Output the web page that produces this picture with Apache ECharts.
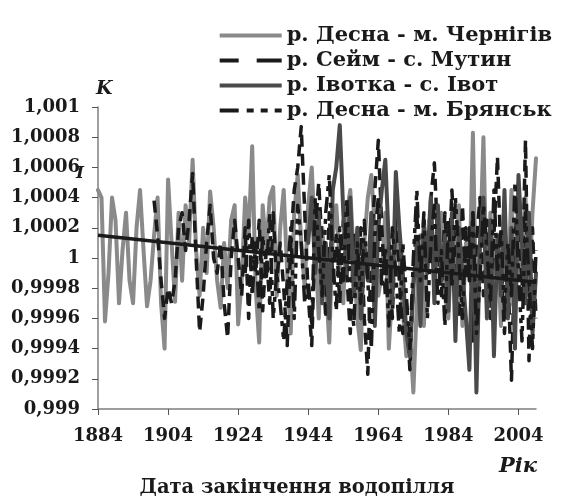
<!DOCTYPE html>
<html>
<head>
<meta charset="utf-8">
<script src="https://cdn.jsdelivr.net/npm/echarts@6/dist/echarts.min.js"></script>
<style>
html,body{margin:0;padding:0;background:#fff;}
#chart{width:563px;height:500px;}
</style>
</head>
<body>
<div id="chart"></div>
<script>
// ---------- DATA ----------
const firstYear = 1884;
const lastYear = 2009;
const years = [];
for (let y = firstYear; y <= lastYear; y++) years.push(String(y));

const seriesNames = [
  'р. Десна - м. Чернігів',
  'р. Сейм - с. Мутин',
  'р. Івотка - с. Івот',
  'р. Десна - м. Брянськ'
];

// р. Десна - м. Чернігів, 1884-2009
const chernihiv = [
  1.00045,1.00040,0.99958,0.99990,1.00040,1.00025,0.99970,1.00005,1.00030,0.99985,
  0.99970,1.00020,1.00045,1.00005,0.99968,0.99985,1.00015,1.00040,0.99970,0.99940,
  1.00052,1.00010,0.99971,1.00030,0.99985,1.00035,1.00010,1.00065,1.00005,0.99975,
  1.00020,0.99990,1.00044,1.00020,0.99985,0.99967,1.00010,0.99980,1.00025,1.00035,
  0.99956,0.99985,1.00040,1.00015,1.00074,0.99980,0.99944,1.00035,1.00005,1.00040,
  1.00047,0.99975,1.00020,1.00045,0.99990,0.99950,1.00030,1.00055,1.00010,0.99980,
  1.00035,1.00060,1.00010,0.99960,1.00020,0.99985,0.99944,1.00015,1.00035,0.99995,
  0.99970,1.00030,1.00045,1.00000,0.99960,0.99939,1.00010,1.00040,1.00055,1.00020,
  0.99975,0.99990,1.00030,0.99940,0.99980,1.00025,1.00000,0.99965,0.99935,0.99950,
  0.99911,0.99970,1.00015,0.99955,1.00005,1.00040,0.99985,1.00020,1.00030,0.99975,
  0.99960,1.00015,0.99990,1.00035,0.99955,1.00010,0.99985,1.00083,0.99960,1.00005,
  1.00080,0.99970,1.00030,0.99990,1.00010,0.99955,1.00025,0.99980,1.00045,0.99965,
  1.00015,0.99985,1.00040,0.99975,1.00030,1.00066
];

// р. Сейм - с. Мутин, 1900-2009
const mutynStart = 1900;
const mutyn = [
  1.00038,1.00015,0.99985,0.99960,0.99980,0.99970,0.99985,1.00020,1.00030,1.00005,
  1.00025,1.00056,1.00000,0.99951,0.99975,1.00010,1.00035,1.00000,0.99990,1.00010,
  0.99970,0.99947,1.00000,1.00025,1.00000,0.99975,1.00020,0.99960,1.00015,0.99990,
  1.00025,0.99965,1.00005,0.99970,1.00030,0.99985,1.00010,0.99980,0.99942,1.00010,
  1.00045,1.00060,1.00087,1.00030,0.99975,0.99942,1.00020,1.00050,1.00005,0.99960,
  1.00030,0.99985,1.00015,0.99970,1.00025,0.99990,0.99950,1.00015,0.99980,1.00020,
  0.99960,0.99923,1.00010,1.00045,1.00078,1.00020,0.99975,1.00010,0.99960,1.00030,
  0.99985,0.99950,0.99970,0.99926,0.99985,1.00030,0.99970,1.00020,1.00000,1.00040,
  1.00063,1.00010,0.99975,1.00030,0.99990,1.00045,1.00000,0.99960,1.00035,0.99985,
  1.00020,0.99945,1.00010,1.00040,0.99975,1.00025,0.99960,1.00015,1.00067,1.00000,
  0.99950,0.99990,0.99919,1.00010,1.00050,0.99975,1.00078,0.99932,1.00020,0.99960
];

// р. Івотка - с. Івот, 1944-2009
const ivotStart = 1944;
const ivot = [
  1.00010,1.00040,0.99990,1.00030,0.99970,1.00010,0.99960,1.00045,1.00060,1.00088,
  1.00030,0.99990,1.00040,0.99975,1.00020,0.99960,1.00010,0.99985,1.00030,0.99955,
  1.00020,1.00045,1.00065,1.00010,0.99970,1.00057,1.00020,0.99990,0.99950,0.99935,
  0.99980,1.00010,0.99955,1.00025,0.99990,1.00040,0.99970,1.00035,0.99985,1.00015,
  0.99965,1.00030,0.99945,1.00020,0.99990,0.99960,0.99926,1.00030,0.99911,1.00010,
  1.00040,0.99960,1.00025,0.99935,1.00015,0.99975,1.00045,0.99960,1.00020,0.99940,
  1.00055,1.00010,0.99970,1.00030,0.99950,0.99990
];

// р. Десна - м. Брянськ, 1926-2009
const bryanskStart = 1926;
const bryansk = [
  0.99990,1.00025,0.99975,1.00010,0.99965,1.00015,0.99985,1.00030,0.99960,0.99990,
  0.99970,0.99945,0.99985,1.00020,0.99960,1.00035,1.00010,0.99970,0.99985,0.99955,
  1.00040,1.00005,0.99975,1.00030,1.00055,1.00000,0.99965,1.00020,0.99985,1.00040,
  0.99975,0.99955,1.00010,0.99970,1.00025,0.99985,0.99940,1.00015,1.00040,0.99980,
  1.00005,0.99955,1.00020,0.99990,0.99950,1.00010,0.99975,0.99940,1.00000,1.00045,
  0.99985,1.00030,0.99960,1.00010,1.00035,0.99970,1.00005,0.99955,1.00025,0.99980,
  1.00040,1.00000,0.99960,1.00020,0.99985,1.00030,0.99950,0.99985,1.00035,1.00005,
  0.99970,1.00045,0.99990,1.00020,0.99965,1.00010,0.99975,1.00050,0.99990,0.99945,
  1.00030,0.99985,0.99940,1.00005
];

// linear trend end points (years, values)
const trendYears = [1884, 2009];
const trendValues = [1.00015, 0.99984];

// y-axis tick labels
const yTickValues = [0.999,0.9992,0.9994,0.9996,0.9998,1,1.0002,1.0004,1.0006,1.0008,1.001];
const yTickLabels = ['0,999','0,9992','0,9994','0,9996','0,9998','1','1,0002','1,0004','1,0006','1,0008','1,001'];

// ---------- BUILD ----------
function padSeries(startYear, values) {
  return years.map((ys) => {
    const i = Number(ys) - startYear;
    return (i >= 0 && i < values.length) ? values[i] : null;
  });
}
const trendData = years.map((ys) => {
  const k = trendYears.indexOf(Number(ys));
  return k >= 0 ? trendValues[k] : null;
});

const FONT = "'DejaVu Serif','Liberation Serif',serif";
const TXT = '#1a1a1a';
const FS = 18;

// legend sample icons (solid / dashed / dash-dot), 62 x 4
const ICON_SOLID = 'path://M0,0h62v4h-62z';
const ICON_DASH = 'path://M0,0h19v4h-19z M37,0h25v4h-25z';
const ICON_DASHDOT = 'path://M0,0h19v4h-19z M27,0h7v4h-7z M41,0h7v4h-7z M55,0h7v4h-7z';
const legendIcons = [ICON_SOLID, ICON_DASH, ICON_SOLID, ICON_DASHDOT];

const lineBase = {cap: 'round', join: 'round'};

const chart = echarts.init(document.getElementById('chart'), null, {renderer: 'canvas'});
chart.setOption({
  animation: false,
  backgroundColor: '#ffffff',
  grid: {left: 98, right: 27, top: 107, bottom: 91, containLabel: false},
  legend: {
    data: seriesNames.map((n, i) => ({name: n, icon: legendIcons[i]})),
    orient: 'vertical',
    right: 6,
    top: 20,
    itemWidth: 62,
    itemHeight: 4,
    itemGap: 4,
    align: 'left',
    textStyle: {fontFamily: FONT, fontWeight: 'bold', fontSize: 21, color: TXT, lineHeight: 20},
    selectedMode: false
  },
  xAxis: {
    type: 'category',
    data: years,
    boundaryGap: false,
    axisLine: {show: true, lineStyle: {color: '#7f7f7f', width: 1.5}},
    axisTick: {show: true, interval: 19, length: 6, lineStyle: {color: '#555', width: 1}},
    axisLabel: {interval: 19, margin: 18, fontFamily: FONT, fontWeight: 'bold', fontSize: FS, color: TXT},
    splitLine: {show: false}
  },
  yAxis: {
    type: 'value',
    min: 0.999,
    max: 1.001,
    interval: 0.0002,
    axisLine: {show: true, lineStyle: {color: '#7f7f7f', width: 1.5}},
    axisTick: {show: true, length: 6, lineStyle: {color: '#555', width: 1}},
    axisLabel: {
      margin: 18, fontFamily: FONT, fontWeight: 'bold', fontSize: FS, color: TXT,
      formatter: function (v) {
        let best = 0, bd = Infinity;
        yTickValues.forEach((t, i) => { const d = Math.abs(t - v); if (d < bd) { bd = d; best = i; } });
        return yTickLabels[best];
      }
    },
    splitLine: {show: false}
  },
  graphic: [
    {type: 'text', left: 96, top: 80, style: {text: 'K', font: "italic bold 19px 'DejaVu Serif', serif", fill: TXT}},
    {type: 'text', left: 76, top: 165, style: {text: 'I', font: "italic bold 17px 'DejaVu Serif', serif", fill: TXT}},
    {type: 'text', left: 499, top: 456, style: {text: 'Рік', font: "italic bold 21px 'DejaVu Serif', serif", fill: TXT}},
    {type: 'text', x: 297, y: 488, style: {text: 'Дата закінчення водопілля', font: "bold 19.5px 'DejaVu Serif', serif", fill: TXT, align: 'center', verticalAlign: 'middle'}}
  ],
  series: [
    {
      name: seriesNames[0], type: 'line', data: chernihiv, symbol: 'none', z: 2,
      lineStyle: Object.assign({color: '#8a8a8a', width: 4, type: 'solid'}, lineBase), itemStyle: {color: '#8a8a8a'}
    },
    {
      name: seriesNames[1], type: 'line', data: padSeries(mutynStart, mutyn), symbol: 'none', z: 3,
      lineStyle: Object.assign({color: '#1a1a1a', width: 3.5, type: [12, 7]}, {cap: 'butt', join: 'round'}), itemStyle: {color: '#1a1a1a'}
    },
    {
      name: seriesNames[2], type: 'line', data: padSeries(ivotStart, ivot), symbol: 'none', z: 4,
      lineStyle: Object.assign({color: '#4a4a4a', width: 4, type: 'solid'}, lineBase), itemStyle: {color: '#4a4a4a'}
    },
    {
      name: seriesNames[3], type: 'line', data: padSeries(bryanskStart, bryansk), symbol: 'none', z: 5,
      lineStyle: Object.assign({color: '#1a1a1a', width: 3.5, type: [16, 6, 5, 6, 5, 6]}, {cap: 'butt', join: 'round'}), itemStyle: {color: '#1a1a1a'}
    },
    {
      name: 'trend', type: 'line', data: trendData, symbol: 'none', connectNulls: true, z: 6,
      lineStyle: {color: '#1a1a1a', width: 3.5}, itemStyle: {color: '#1a1a1a'}
    }
  ]
});
</script>
</body>
</html>
